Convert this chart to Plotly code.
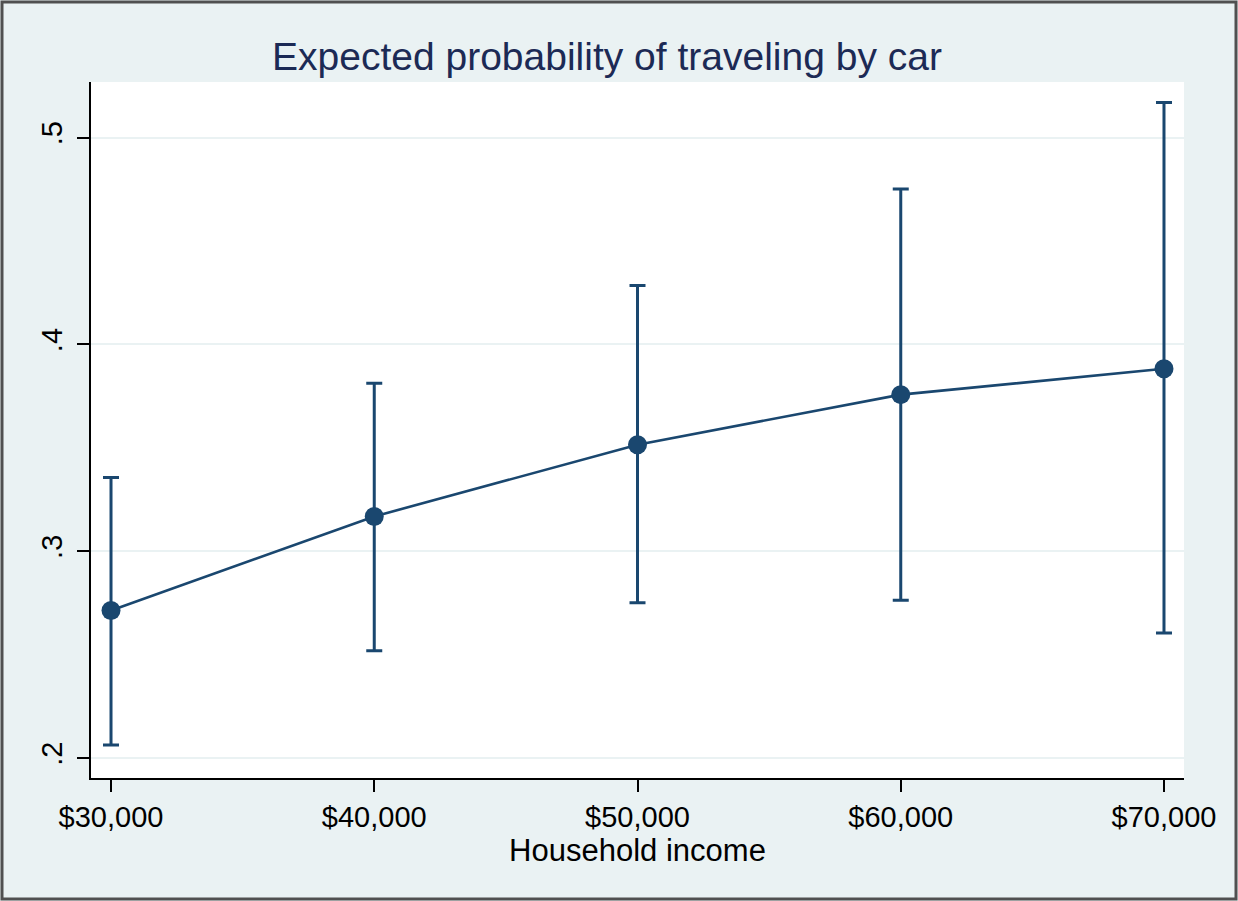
import plotly.graph_objects as go

income = [30000, 40000, 50000, 60000, 70000]
prob = [0.2713, 0.3168, 0.3515, 0.3757, 0.3882]
ci_upper = [0.3356, 0.3812, 0.4285, 0.4752, 0.5170]
ci_lower = [0.2062, 0.2518, 0.2751, 0.2763, 0.2604]

x_tickvals = [30000, 40000, 50000, 60000, 70000]
x_ticktext = ["$30,000", "$40,000", "$50,000", "$60,000", "$70,000"]
y_tickvals = [0.2, 0.3, 0.4, 0.5]
y_ticktext = [".2", ".3", ".4", ".5"]

NAVY = "#1a476f"
FONT = "Liberation Sans, Arial, sans-serif"

W, H = 1238, 901
ML, MR, MT, MB = 91, 54, 82, 123

fig = go.Figure()
fig.add_trace(go.Scatter(
    x=income, y=prob,
    mode="lines+markers",
    line=dict(color=NAVY, width=2.6),
    marker=dict(color=NAVY, size=19),
    error_y=dict(
        type="data", symmetric=False,
        array=[u - p for u, p in zip(ci_upper, prob)],
        arrayminus=[p - l for p, l in zip(prob, ci_lower)],
        color=NAVY, thickness=3, width=8,
    ),
    showlegend=False,
))

pw = W - ML - MR
ph = H - MT - MB
# outer border
fig.add_shape(
    type="rect", xref="paper", yref="paper",
    x0=(2 - ML) / pw, x1=(W - 2 - ML) / pw,
    y0=-(H - 2 - MT - ph) / ph, y1=(MT - 2) / ph + 1,
    line=dict(color="#505050", width=3), layer="below",
)

fig.update_layout(
    width=W, height=H,
    margin=dict(l=ML, r=MR, t=MT, b=MB),
    paper_bgcolor="#eaf2f3",
    plot_bgcolor="#ffffff",
    font=dict(family=FONT, color="#000000", size=29),
    title=dict(
        text="Expected probability of traveling by car",
        font=dict(family=FONT, size=39, color="#1c2a55"),
        x=607 / W, xanchor="center", xref="container",
        y=1 - 56 / H, yanchor="middle", yref="container",
    ),
    xaxis=dict(
        range=[29240, 70760],
        tickvals=x_tickvals, ticktext=x_ticktext,
        showgrid=False, zeroline=False,
        showline=True, linecolor="#000000", linewidth=2,
        ticks="outside", ticklen=12, tickwidth=1.5, tickcolor="#000000",
        tickfont=dict(size=29, color="#000000"),
        title=dict(text="Household income", font=dict(size=31, color="#000000"), standoff=0),
    ),
    yaxis=dict(
        range=[0.1903, 0.5269],
        tickvals=y_tickvals, ticktext=y_ticktext,
        tickangle=-90,
        showgrid=True, gridcolor="#eaf2f3", gridwidth=2,
        zeroline=False,
        showline=True, linecolor="#000000", linewidth=2,
        ticks="outside", ticklen=12, tickwidth=1.5, tickcolor="#000000",
        tickfont=dict(size=29, color="#000000"),
        ticklabelstandoff=3,
    ),
)

fig.write_html("out.html")
